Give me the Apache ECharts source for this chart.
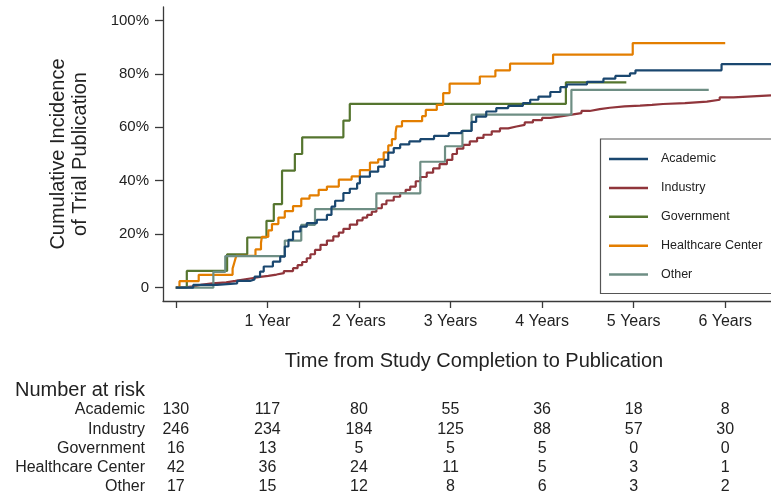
<!DOCTYPE html>
<html><head><meta charset="utf-8">
<script src="https://cdn.jsdelivr.net/npm/echarts@6/dist/echarts.min.js"></script>
<style>html,body{margin:0;padding:0;background:#fff}#c{width:771px;height:499px}</style>
</head><body><div id="c"></div>
<script>
const groups = ['Academic', 'Industry', 'Government', 'Healthcare Center', 'Other'];
const colors = ['#1a476f', '#90353b', '#55752f', '#e37e00', '#6e8e84'];
const tickYears = [0, 1, 2, 3, 4, 5, 6];
const tickLabels = ['', '1 Year', '2 Years', '3 Years', '4 Years', '5 Years', '6 Years'];
const yTicks = [0, 20, 40, 60, 80, 100];
const yTickLabels = ['0', '20%', '40%', '60%', '80%', '100%'];

// [years, cumulative incidence %]
const academic = [[0,0],[0.19,1.0],[0.45,1.6],[0.67,2.5],[0.81,3.1],[0.86,4.1],[0.92,6.0],[0.96,7.9],[1.06,9.7],[1.14,11.6],[1.19,15.4],[1.23,17.9],[1.28,21.0],[1.36,22.8],[1.43,24.1],[1.54,25.4],[1.65,27.2],[1.70,30.3],[1.74,32.5],[1.83,35.4],[1.90,37.0],[1.98,39.0],[2.01,41.5],[2.12,43.4],[2.21,45.3],[2.28,47.8],[2.32,50.5],[2.38,52.2],[2.45,53.6],[2.55,54.7],[2.67,55.6],[2.82,56.8],[2.98,57.8],[3.12,58.6],[3.23,62.0],[3.28,64.0],[3.39,65.9],[3.50,67.2],[3.63,68.0],[3.79,69.0],[3.87,70.3],[3.96,71.5],[4.09,73.2],[4.20,75.0],[4.27,76.0],[4.49,77.0],[4.67,78.2],[4.80,79.2],[4.96,80.2],[5.02,81.3],[5.96,83.6],[6.50,83.6]];
const industry = [[0,0],[0.08,0.5],[0.19,1.0],[0.27,1.6],[0.40,2.0],[0.55,2.5],[0.65,3.0],[0.74,3.5],[0.83,4.0],[0.92,4.4],[1.01,4.9],[1.10,5.4],[1.18,6.2],[1.28,7.3],[1.33,8.4],[1.38,9.6],[1.43,11.0],[1.47,12.5],[1.52,14.1],[1.58,16.0],[1.65,17.6],[1.72,19.2],[1.78,20.6],[1.83,22.0],[1.90,23.6],[1.98,25.2],[2.04,26.2],[2.09,27.2],[2.14,28.4],[2.19,29.7],[2.25,31.2],[2.30,32.6],[2.38,34.0],[2.45,35.4],[2.51,36.6],[2.56,37.8],[2.62,39.8],[2.67,41.4],[2.74,43.0],[2.81,44.6],[2.88,46.2],[2.96,47.8],[3.02,50.0],[3.07,52.0],[3.14,53.4],[3.21,54.7],[3.29,56.0],[3.36,57.2],[3.45,58.5],[3.54,59.6],[3.63,60.3],[3.72,60.9],[3.81,61.8],[3.90,62.7],[4.00,63.5],[4.09,64.2],[4.22,64.8],[4.34,65.3],[4.43,66.1],[4.52,66.8],[4.63,67.3],[4.74,67.8],[4.90,68.1],[5.07,68.4],[5.20,68.7],[5.32,69.0],[5.56,69.6],[5.80,70.3],[5.94,71.2],[6.09,71.9],[6.50,71.9]];
const government = [[0,0],[0.12,6.25],[0.56,12.5],[0.78,18.75],[0.99,25],[1.07,31.25],[1.16,43.75],[1.30,50],[1.38,56.25],[1.83,62.5],[1.90,68.75],[4.26,76.8],[4.92,76.8]];
const healthcare = [[0,0],[0.04,2.4],[0.25,4.8],[0.62,7.1],[0.64,9.5],[0.66,11.9],[0.87,14.3],[0.93,16.7],[0.94,19.0],[1.01,21.4],[1.05,23.8],[1.12,26.2],[1.19,28.6],[1.28,30.5],[1.37,33.3],[1.46,34.5],[1.56,36.6],[1.65,37.8],[1.78,40.4],[1.92,41.6],[2.01,44.0],[2.12,46.8],[2.21,48.0],[2.27,50.6],[2.32,53.2],[2.36,55.6],[2.40,58.0],[2.41,60.3],[2.47,62.3],[2.69,64.2],[2.73,66.5],[2.85,68.4],[2.92,72.8],[2.99,76.3],[3.32,79.0],[3.49,81.3],[3.65,83.8],[4.12,87.2],[4.99,91.5],[6.00,91.5]];
const other = [[0,0],[0.41,5.9],[0.54,11.8],[1.19,17.6],[1.37,23.5],[1.52,29.4],[2.19,35.3],[2.67,47.1],[2.94,52.9],[3.13,58.8],[3.23,64.7],[4.32,74.0],[5.82,74.0]];

// Number at risk at 0..6 years
const riskAcademic = [130, 117, 80, 55, 36, 18, 8];
const riskIndustry = [246, 234, 184, 125, 88, 57, 30];
const riskGovernment = [16, 13, 5, 5, 5, 0, 0];
const riskHealthcare = [42, 36, 24, 11, 5, 3, 1];
const riskOther = [17, 15, 12, 8, 6, 3, 2];

const seriesData = [academic, industry, government, healthcare, other];
const riskRows = [riskAcademic, riskIndustry, riskGovernment, riskHealthcare, riskOther];

const FONT = "'Liberation Sans', Arial, sans-serif";
const TXT = '#222';
const AX = '#3a3a3a';

const chart = echarts.init(document.getElementById('c'), null, {renderer: 'canvas'});

const option = {
  animation: false,
  backgroundColor: '#fff',
  textStyle: {fontFamily: FONT},
  grid: {left: 163, right: 0, top: 7, bottom: 198, containLabel: false},
  xAxis: {
    type: 'value', min: -0.14, max: 6.5,
    axisLine: {show: true, onZero: false, lineStyle: {color: AX, width: 1.3}},
    axisTick: {show: true, length: 7, inside: false, customValues: tickYears, lineStyle: {color: AX, width: 1.3}},
    axisLabel: {show: true, customValues: tickYears, margin: 13, color: TXT, fontSize: 16, fontFamily: FONT,
      formatter: v => tickLabels[tickYears.indexOf(Math.round(v))] || ''},
    splitLine: {show: false}
  },
  yAxis: {
    type: 'value', min: -5, max: 105,
    name: 'Cumulative Incidence\nof Trial Publication',
    nameLocation: 'middle', nameGap: 72, nameRotate: 90,
    nameTextStyle: {fontSize: 20, lineHeight: 22, color: TXT, fontFamily: FONT, align: 'center'},
    axisLine: {show: true, onZero: false, lineStyle: {color: AX, width: 1.3}},
    axisTick: {show: true, length: 8, inside: false, customValues: yTicks, lineStyle: {color: AX, width: 1.3}},
    axisLabel: {show: true, customValues: yTicks, margin: 14, color: TXT, fontSize: 15, fontFamily: FONT,
      formatter: v => yTickLabels[yTicks.indexOf(Math.round(v))] || ''},
    splitLine: {show: false}
  },
  legend: {
    orient: 'vertical', left: 604, top: 146,
    itemWidth: 39, itemHeight: 2.5, itemGap: 12.9, icon: 'rect',
    textStyle: {fontSize: 12.5, color: TXT, fontFamily: FONT, lineHeight: 16, padding: [0, 0, 0, 8]},
    data: groups, selectedMode: false, z: 6
  },
  series: groups.map((g, i) => ({
    name: g, type: 'line', step: 'end', data: seriesData[i],
    showSymbol: false, symbol: 'none', color: colors[i],
    lineStyle: {color: colors[i], width: 2.2},
    z: 2 + (i === 0 ? 1 : 0)
  }))
};
chart.setOption(option);

// Legend box and number-at-risk table, positioned via the axis scale
const graphics = [];
graphics.push({type: 'rect', z: 5, shape: {x: 600.5, y: 139, width: 200, height: 154.5},
  style: {fill: '#fff', stroke: '#555', lineWidth: 1.2}});
graphics.push({type: 'text', z: 5, style: {
  text: 'Time from Study Completion to Publication', x: 474, y: 361, align: 'center', verticalAlign: 'middle',
  font: '20px ' + FONT, fill: TXT}});
graphics.push({type: 'text', z: 5, style: {
  text: 'Number at risk', x: 15, y: 390, align: 'left', verticalAlign: 'middle',
  font: '20px ' + FONT, fill: TXT}});
const rowY0 = 410, rowStep = 19.2;
groups.forEach((g, r) => {
  const y = rowY0 + r * rowStep;
  graphics.push({type: 'text', z: 5, style: {text: g, x: 145, y: y, align: 'right', verticalAlign: 'middle',
    font: '16px ' + FONT, fill: TXT}});
  riskRows[r].forEach((n, k) => {
    const px = chart.convertToPixel({xAxisIndex: 0}, tickYears[k]);
    graphics.push({type: 'text', z: 5, style: {text: String(n), x: px, y: y, align: 'center', verticalAlign: 'middle',
      font: '16px ' + FONT, fill: TXT}});
  });
});
chart.setOption({graphic: graphics});
</script>
</body></html>
